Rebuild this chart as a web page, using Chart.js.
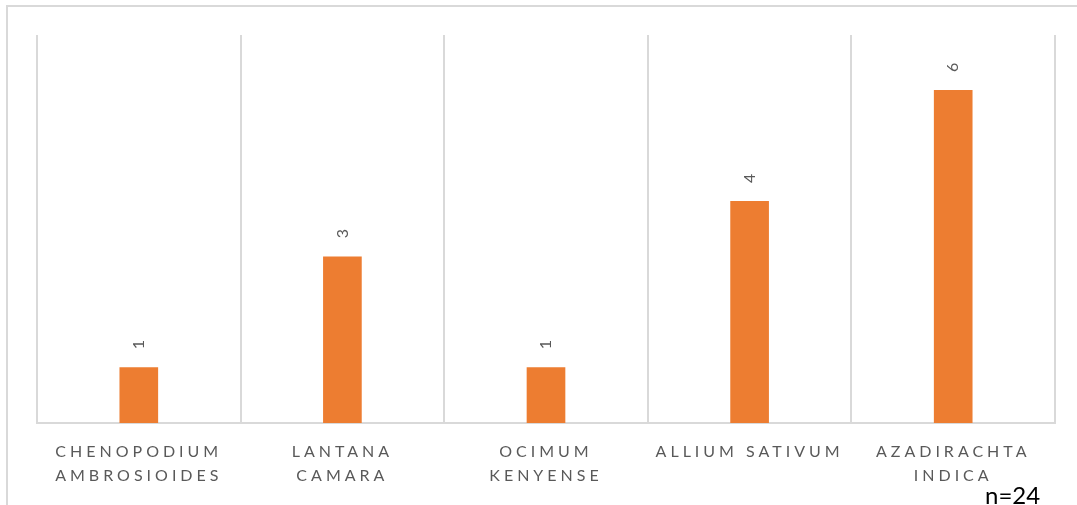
<!DOCTYPE html>
<html>
<head>
<meta charset="utf-8">
<script src="https://cdn.jsdelivr.net/npm/chart.js@4.4.1/dist/chart.umd.min.js"></script>
<style>
  html, body { margin: 0; padding: 0; background: #fff; overflow: hidden; }
  #frame {
    position: absolute; left: 6px; top: 5px; width: 1200px; height: 600px;
    border-left: 2px solid #d9d9d9; border-top: 2px solid #d9d9d9;
  }
  #wrap { position: absolute; left: 0; top: 0; width: 1077px; height: 505px; }
</style>
</head>
<body>
<div id="frame"></div>
<div id="wrap"><canvas id="myChart"></canvas></div>
<script>
// plant species and number of mentions
var plants = [
  ['CHENOPODIUM', 'AMBROSIOIDES'],
  ['LANTANA', 'CAMARA'],
  ['OCIMUM', 'KENYENSE'],
  'ALLIUM SATIVUM',
  ['AZADIRACHTA', 'INDICA']
];
var counts = [1, 3, 1, 4, 6];
var sampleNote = 'n=24';

// spaced out capitals for the category axis
var spacedTicks = {
  id: 'spacedTicks',
  beforeDraw: function(chart) { chart.ctx.letterSpacing = '4px'; },
  afterDraw: function(chart) { chart.ctx.letterSpacing = '0px'; }
};

// numbers above the bars, turned on their side
var barValues = {
  id: 'barValues',
  afterDatasetsDraw: function(chart) {
    var ctx = chart.ctx;
    var meta = chart.getDatasetMeta(0);
    ctx.save();
    ctx.letterSpacing = '0px';
    ctx.font = '16px Lato';
    ctx.fillStyle = '#595959';
    ctx.textAlign = 'center';
    ctx.textBaseline = 'middle';
    meta.data.forEach(function(bar, i) {
      ctx.save();
      ctx.translate(bar.x, bar.y - 23);
      ctx.rotate(-Math.PI / 2);
      ctx.fillText(String(counts[i]), 0, 0);
      ctx.restore();
    });
    ctx.restore();
  }
};

var sampleSize = {
  id: 'sampleSize',
  afterDraw: function(chart) {
    var ctx = chart.ctx;
    ctx.save();
    ctx.letterSpacing = '0px';
    ctx.font = '24px Lato';
    ctx.fillStyle = '#000';
    ctx.textAlign = 'left';
    ctx.textBaseline = 'alphabetic';
    ctx.fillText(sampleNote, 985, 504);
    ctx.restore();
  }
};

var ctx = document.getElementById('myChart').getContext('2d');
var chart = new Chart(ctx, {
  type: 'bar',
  data: {
    labels: plants,
    datasets: [{
      data: counts,
      backgroundColor: '#ED7D31',
      borderWidth: 0,
      barThickness: 38
    }]
  },
  options: {
    responsive: true,
    maintainAspectRatio: false,
    animation: false,
    layout: { padding: { left: 37, right: 22, top: 35, bottom: 0 } },
    plugins: {
      legend: { display: false },
      tooltip: { enabled: false }
    },
    scales: {
      x: {
        grid: { color: '#d9d9d9', lineWidth: 2, drawTicks: false, offset: true },
        border: { color: '#d9d9d9', width: 2 },
        ticks: {
          color: '#595959',
          font: { family: 'Lato', size: 16, lineHeight: 1.5 },
          padding: 17,
          maxRotation: 0,
          autoSkip: false
        }
      },
      y: {
        display: false,
        min: 0,
        max: 7
      }
    }
  },
  plugins: [spacedTicks, barValues, sampleSize]
});
</script>
</body>
</html>
